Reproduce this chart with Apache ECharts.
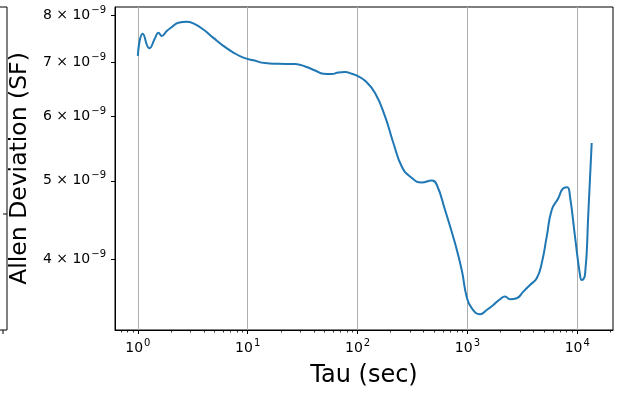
<!DOCTYPE html>
<html><head><meta charset="utf-8">
<script src="https://cdn.jsdelivr.net/npm/echarts@6/dist/echarts.min.js"></script>
<style>html,body{margin:0;padding:0;background:#fff}#c{width:620px;height:394px}</style>
</head><body><div id="c"></div>
<script>
// Tau (sec)
const tau = [1.0, 1.11, 1.275, 1.437, 1.54, 1.653, 1.836, 2.039, 2.341, 2.792, 3.206, 3.954, 4.875, 6.009, 7.41, 9.14, 11.27,
  14.39, 19.03, 27.0, 33.3, 41.06, 48.85, 58.25, 66.9, 76.9, 88.6, 98.9, 117.0, 144.3, 177.9, 211.8, 252.5, 300.4, 383.9,
  473.4, 525.6, 625.6, 771.4, 887.4, 985.4, 1094, 1302, 1498, 1721, 1980, 2199, 2441, 2809, 3226, 3712, 4273, 4744, 5267,
  5850, 6715, 7458, 8110, 8582, 9530, 10580, 10966, 11750, 12600, 13520];
// Allen deviation (SF)
const adev = [7.135e-9, 7.60e-9, 7.292e-9, 7.51e-9, 7.62e-9, 7.55e-9, 7.66e-9, 7.745e-9, 7.842e-9, 7.864e-9, 7.826e-9, 7.69e-9,
  7.51e-9, 7.342e-9, 7.203e-9, 7.10e-9, 7.046e-9, 6.99e-9, 6.976e-9, 6.97e-9, 6.923e-9, 6.845e-9, 6.781e-9, 6.775e-9, 6.806e-9,
  6.814e-9, 6.781e-9, 6.743e-9, 6.647e-9, 6.42e-9, 6.005e-9, 5.568e-9, 5.208e-9, 5.062e-9, 4.976e-9, 5.005e-9, 4.944e-9,
  4.602e-9, 4.185e-9, 3.879e-9, 3.593e-9, 3.479e-9, 3.42e-9, 3.462e-9, 3.512e-9, 3.569e-9, 3.596e-9, 3.569e-9, 3.579e-9,
  3.647e-9, 3.717e-9, 3.789e-9, 3.954e-9, 4.265e-9, 4.602e-9, 4.758e-9, 4.896e-9, 4.91e-9, 4.78e-9, 4.265e-9, 3.825e-9,
  3.77e-9, 3.825e-9, 4.559e-9, 5.568e-9];
// Tick labels
const xTickExponents = [0, 1, 2, 3, 4];
const yTickValues = [4e-9, 5e-9, 6e-9, 7e-9, 8e-9];
const xRange = [0.62, 21130];
const yRange = [3.27e-9, 8.2e-9];

const L = Math.log10;
const xMajor = xTickExponents.slice();
const xMinor = [];
for (let n = -1; n <= 4; n++) for (let k = 2; k <= 9; k++) {
  const v = n + L(k);
  if (v >= L(xRange[0]) && v <= L(xRange[1])) xMinor.push(v);
}
const yMajor = yTickValues.map(v => L(v));
const FONT = 'DejaVu Sans';
const rich = {
  b: {fontSize: 14, fontFamily: FONT, color: '#000', lineHeight: 20},
  s: {fontSize: 10, fontFamily: FONT, color: '#000', verticalAlign: 'top', lineHeight: 20, padding: [0,0,0,1]}
};
const chart = echarts.init(document.getElementById('c'), null, {renderer: 'canvas'});
chart.setOption({
  animation: false,
  backgroundColor: '#fff',
  grid: {left: 115, right: 7, top: 7, bottom: 64, show: true, borderColor: '#000', borderWidth: 1, containLabel: false},
  xAxis: [{
    type: 'value', min: L(xRange[0]), max: L(xRange[1]), position: 'bottom',
    name: 'Tau (sec)', nameLocation: 'middle', nameGap: 34,
    nameTextStyle: {fontSize: 24, fontFamily: FONT, color: '#000'},
    axisLine: {show: true, onZero: false, lineStyle: {color: '#000', width: 1}},
    axisTick: {show: true, inside: false, length: 4, customValues: xMajor, lineStyle: {color: '#000', width: 1}},
    axisLabel: {show: true, margin: 8, customValues: xMajor,
      formatter: v => '{b|10}{s|' + Math.round(v) + '}', rich: rich},
    splitLine: {show: true, lineStyle: {color: '#b0b0b0', width: 1}}
  }, {
    type: 'value', min: L(xRange[0]), max: L(xRange[1]), position: 'bottom',
    axisLine: {show: false, onZero: false},
    axisTick: {show: true, inside: false, length: 2.5, customValues: xMinor, lineStyle: {color: '#000', width: 0.8}},
    axisLabel: {show: false},
    splitLine: {show: false}
  }],
  yAxis: [{
    type: 'value', min: L(yRange[0]), max: L(yRange[1]), position: 'left',
    name: 'Allen Deviation (SF)', nameLocation: 'middle', nameGap: 76, nameRotate: 90,
    nameTextStyle: {fontSize: 23.5, fontFamily: FONT, color: '#000'},
    axisLine: {show: true, onZero: false, lineStyle: {color: '#000', width: 1}},
    axisTick: {show: true, inside: false, length: 4, customValues: yMajor, lineStyle: {color: '#000', width: 1}},
    axisLabel: {show: true, margin: 9, customValues: yMajor,
      formatter: v => '{b|' + Math.round(Math.pow(10, v) * 1e9) + ' × 10}{s|−9}', rich: rich},
    splitLine: {show: false}
  }],
  graphic: [
    {type: 'polyline', shape: {points: [[0, 7], [7, 7], [7, 330], [0, 330]]}, style: {stroke: '#000', fill: null, lineWidth: 1}},
    {type: 'line', shape: {x1: 3, y1: 214, x2: 7, y2: 214}, style: {stroke: '#000', lineWidth: 1}},
    {type: 'line', shape: {x1: 3, y1: 330, x2: 3, y2: 334}, style: {stroke: '#000', lineWidth: 1}}
  ],
  series: [{
    type: 'line', xAxisIndex: 0, yAxisIndex: 0, showSymbol: false, smooth: 0.5,
    lineStyle: {color: '#1f77b4', width: 2}, itemStyle: {color: '#1f77b4'},
    data: tau.map((t, i) => [L(t), L(adev[i])])
  }]
});
</script></body></html>
